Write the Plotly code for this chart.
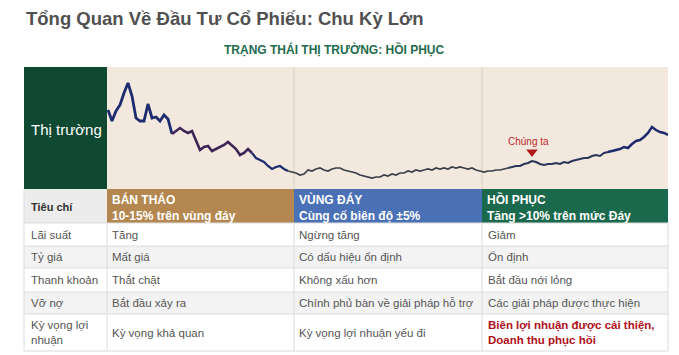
import plotly.graph_objects as go

W, H = 679, 355

# ---------------- data ----------------
market_values = [
    79, 68, 78, 84, 96, 106, 93, 71, 68, 68,
    85, 71, 72, 68, 74, 70, 55, 58, 61, 58,
    56, 58, 48, 39, 42, 43, 38, 40, 42, 44,
    47, 43, 40, 34, 36, 40, 36, 31, 29, 27,
    23, 20, 22, 23, 20, 18, 17, 16, 14, 15,
    19, 18, 20, 21, 19, 18, 20, 21, 21, 19,
    18, 17, 16, 14, 13, 12, 11, 12, 12, 14,
    13, 15, 14, 16, 16, 18, 17, 19, 18, 19,
    20, 19, 21, 20, 21, 20, 22, 21, 22, 21,
    20, 21, 19, 18, 17, 18, 18, 19, 19, 20,
    21, 22, 23, 23, 25, 26, 28, 27, 25, 24,
    25, 25, 26, 25, 27, 26, 28, 29, 30, 31,
    31, 33, 34, 33, 36, 37, 38, 39, 40, 42,
    41, 45, 48, 49, 52, 56, 62, 59, 57, 56,
    54,
]
marker_index = 106
marker_label = "Chúng ta"

title_text = "Tổng Quan Về Đầu Tư Cổ Phiếu: Chu Kỳ Lớn"
status_text = "TRẠNG THÁI THỊ TRƯỜNG: HỒI PHỤC"
row_label = "Thị trường"
criteria_header = "Tiêu chí"
criteria = ["Lãi suất", "Tỷ giá", "Thanh khoản", "Vỡ nợ", "Kỳ vọng lợi<br>nhuận"]
phase_names = ["BÁN THÁO", "VÙNG ĐÁY", "HỒI PHỤC"]
phase_desc = ["10-15% trên vùng đáy", "Cùng cố biên độ ±5%", "Tăng >10% trên mức Đáy"]
selloff = ["Tăng", "Mất giá", "Thắt chặt", "Bắt đầu xảy ra", "Kỳ vọng khả quan"]
bottom = ["Ngừng tăng", "Có dấu hiệu ổn định", "Không xấu hơn",
          "Chính phủ bàn về giải pháp hỗ trợ", "Kỳ vọng lợi nhuận yếu đi"]
recovery = ["Giảm", "Ổn định", "Bắt đầu nới lỏng", "Các giải pháp được thực hiện",
            "Biên lợi nhuận được cải thiện,<br>Doanh thu phục hồi"]

# ---------------- styling ----------------
FONT = "Liberation Sans, Arial, sans-serif"
CREAM = "rgb(242,232,221)"
DARK_GREEN = "rgb(16,73,50)"
PHASE_COLORS = ["rgb(180,135,80)", "rgb(74,112,182)", "rgb(27,105,77)"]
GRID = "#dcdcdc"


def px(x):
    return x / W


def py(y):
    return 1 - y / H


# geometry (pixels)
L, R = 24, 668
COL = [24, 107, 294, 482, 668]
CH_TOP, CH_BOT = 67, 189
ROWS = [189, 223, 246, 268, 292, 314, 351]

fig = go.Figure()

# line segments with colours
segments = [
    (0, 16, "#1c2b6e", 2.8),
    (16, 36, "#3f2456", 2.6),
    (36, 45, "#1c2b6e", 2.2),
    (45, 100, "#3b3f4a", 1.7),
    (100, 125, "#27365a", 2.0),
    (125, len(market_values) - 1, "#1c2b6e", 2.5),
]
for a, b, c, w in segments:
    xs = list(range(a, b + 1))
    fig.add_trace(go.Scatter(
        x=xs, y=market_values[a:b + 1], mode="lines",
        line=dict(color=c, width=w), hoverinfo="skip", showlegend=False))

# marker "Chúng ta"
fig.add_trace(go.Scatter(
    x=[marker_index], y=[market_values[marker_index] + 9], mode="markers",
    marker=dict(symbol="triangle-down", size=10, color="#b0181e"),
    hoverinfo="skip", showlegend=False))

shapes = []
# chart background
shapes.append(dict(type="rect", xref="paper", yref="paper",
                   x0=px(COL[1]), x1=px(R), y0=py(CH_BOT), y1=py(CH_TOP),
                   fillcolor=CREAM, line=dict(width=0), layer="below"))
for xv in (COL[2], COL[3]):
    shapes.append(dict(type="line", xref="paper", yref="paper",
                       x0=px(xv), x1=px(xv), y0=py(CH_BOT), y1=py(CH_TOP),
                       line=dict(color="rgba(190,178,165,0.45)", width=1), layer="below"))
# green label block
shapes.append(dict(type="rect", xref="paper", yref="paper",
                   x0=px(COL[0]), x1=px(COL[1]), y0=py(CH_BOT), y1=py(CH_TOP),
                   fillcolor=DARK_GREEN, line=dict(width=0), layer="below"))

# table header
shapes.append(dict(type="rect", xref="paper", yref="paper",
                   x0=px(COL[0]), x1=px(COL[1]), y0=py(ROWS[1]), y1=py(ROWS[0]),
                   fillcolor="#ececec", line=dict(width=0), layer="below"))
for i, c in enumerate(PHASE_COLORS):
    shapes.append(dict(type="rect", xref="paper", yref="paper",
                       x0=px(COL[i + 1]), x1=px(COL[i + 2]), y0=py(ROWS[1]), y1=py(ROWS[0]),
                       fillcolor=c, line=dict(width=0), layer="below"))
# body rows
for r in range(len(criteria)):
    fill = "#ffffff" if r % 2 == 0 else "#f3f3f3"
    shapes.append(dict(type="rect", xref="paper", yref="paper",
                       x0=px(L), x1=px(R), y0=py(ROWS[r + 2]), y1=py(ROWS[r + 1]),
                       fillcolor=fill, line=dict(width=0), layer="below"))
for yv in ROWS[1:]:
    shapes.append(dict(type="line", xref="paper", yref="paper",
                       x0=px(L), x1=px(R), y0=py(yv), y1=py(yv),
                       line=dict(color=GRID, width=1), layer="below"))
for xv in COL:
    shapes.append(dict(type="line", xref="paper", yref="paper",
                       x0=px(xv), x1=px(xv), y0=py(ROWS[-1]), y1=py(ROWS[1]),
                       line=dict(color=GRID, width=1), layer="below"))
shapes.append(dict(type="line", xref="paper", yref="paper",
                   x0=px(L), x1=px(L), y0=py(ROWS[1]), y1=py(ROWS[0]),
                   line=dict(color=GRID, width=1), layer="below"))

ann = []


def text(x, y, s, size, color, bold=False, xanchor="left", align="left"):
    ann.append(dict(xref="paper", yref="paper", x=px(x), y=py(y),
                    text=f"<b>{s}</b>" if bold else s, showarrow=False,
                    xanchor=xanchor, yanchor="middle", align=align,
                    font=dict(family=FONT, size=size, color=color)))


text(24, 18, title_text, 18.5, "#505050", bold=True)
text(334, 49, status_text, 12, "#1f6b4e", bold=True, xanchor="center")
text(29, 129, row_label, 15, "#ffffff")
text(29, 207, criteria_header, 11, "#333333", bold=True)
for i in range(3):
    text(COL[i + 1] + 3, 207, f"{phase_names[i]}<br>{phase_desc[i]}", 12, "#ffffff", bold=True)

centers = [(ROWS[k + 1] + ROWS[k + 2]) / 2 for k in range(len(criteria))]
for k, yc in enumerate(centers):
    text(29, yc, criteria[k], 11.5, "#555555")
    text(COL[1] + 3, yc, selloff[k], 11.5, "#555555")
    text(COL[2] + 3, yc, bottom[k], 11.5, "#555555")
    last = k == len(criteria) - 1
    text(COL[3] + 4, yc, recovery[k], 11.5, "#b0101a" if last else "#555555", bold=last)

# marker label
ann.append(dict(x=marker_index - 1, y=market_values[marker_index] + 20, xref="x", yref="y",
                text=marker_label, showarrow=False, xanchor="center", yanchor="middle",
                font=dict(family=FONT, size=10, color="#c0282d")))

fig.update_layout(
    width=W, height=H,
    margin=dict(l=0, r=0, t=0, b=0),
    paper_bgcolor="white", plot_bgcolor="rgba(0,0,0,0)",
    shapes=shapes, annotations=ann,
    xaxis=dict(domain=[px(COL[1]), px(R)], range=[-0.25, 140], visible=False, fixedrange=True),
    yaxis=dict(domain=[py(CH_BOT), py(CH_TOP)], range=[0, 122], visible=False, fixedrange=True),
    showlegend=False,
)

fig.write_html("out.html", config={"displayModeBar": False},
               post_script="document.body.style.margin='0';document.body.style.overflow='hidden';")
